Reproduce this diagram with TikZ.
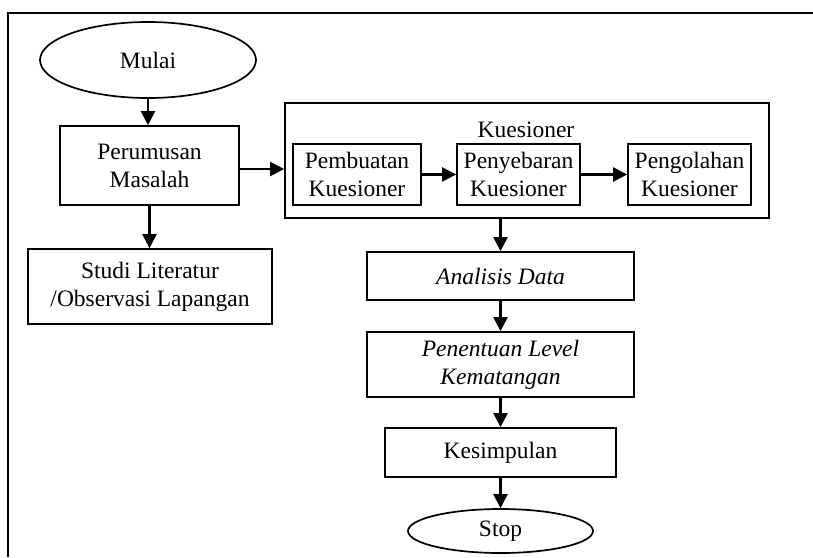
\documentclass[tikz,border=0pt]{standalone}
\usepackage{fontspec}
\setmainfont{Liberation Serif}
\usetikzlibrary{shapes.geometric,arrows.meta}
\begin{document}
\begin{tikzpicture}[x=1pt,y=-1pt,
  every node/.style={font=\fontsize{23.5}{28}\selectfont, align=center, inner sep=0pt},
  proc/.style={draw, line width=1.7pt, rectangle},
  term/.style={draw, line width=1.7pt, ellipse},
  arr/.style={line width=2.2pt, -{Triangle[length=14pt,width=14pt]}}]
\useasboundingbox (0,0) rectangle (813,557);
% outer frame (open on the right and bottom)
\draw[line width=2.2pt] (813,13) -- (8,13) -- (8,557);

\node[term, minimum width=216pt, minimum height=76pt] (mulai) at (148,60) {Mulai};
\node[proc, minimum width=179pt, minimum height=79pt] (rumus) at (149.5,165.5) {Perumusan\\Masalah};
\node[proc, minimum width=244pt, minimum height=75pt] (studi) at (150,286.5) {Studi Literatur\\/Observasi Lapangan};

\node[proc, minimum width=484pt, minimum height=115pt] (kues) at (527,160.5) {};
\node (kjudul) at (526,130) {Kuesioner};
\node[proc, minimum width=128pt, minimum height=61pt] (buat) at (357,174.5) {Pembuatan\\Kuesioner};
\node[proc, minimum width=123pt, minimum height=61pt] (sebar) at (518.5,174.5) {Penyebaran\\Kuesioner};
\node[proc, minimum width=123pt, minimum height=61pt] (olah) at (689.5,174.5) {Pengolahan\\Kuesioner};

\node[proc, minimum width=267pt, minimum height=48pt] (analisis) at (500.5,276) {\itshape Analisis Data};
\node[proc, minimum width=267pt, minimum height=65pt] (level) at (500.5,364.5) {\itshape Penentuan Level\\\itshape Kematangan};
\node[proc, minimum width=231pt, minimum height=49pt] (simpul) at (500.5,452.5) {Kesimpulan};
\node[term, minimum width=185pt, minimum height=44pt] (stop) at (500.5,531) {Stop};

\draw[arr] (mulai.south) -- (mulai.south |- rumus.north);
\draw[arr] (rumus.south) -- (rumus.south |- studi.north);
\draw[arr] ([yshift=-3.5pt]rumus.east) -- ([yshift=-3.5pt]rumus.east -| kues.west);
\draw[arr] (buat.east) -- (sebar.west);
\draw[arr] (sebar.east) -- (olah.west);
\draw[arr] (analisis.north |- kues.south) -- (analisis.north);
\draw[arr] (analisis.south) -- (level.north);
\draw[arr] (level.south) -- (simpul.north);
\draw[arr] (simpul.south) -- (stop.north);
\end{tikzpicture}
\end{document}
